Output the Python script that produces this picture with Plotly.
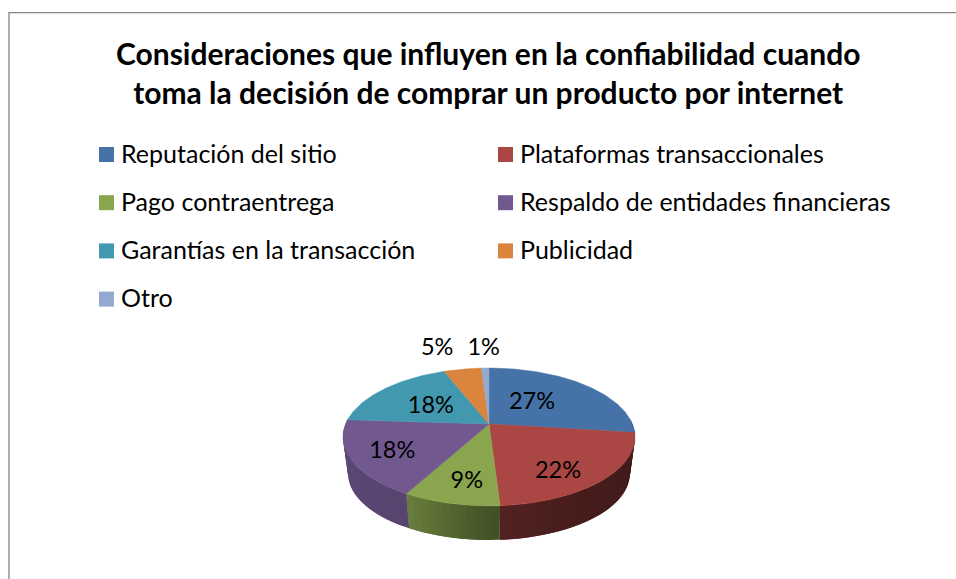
import numpy as np
import plotly.graph_objects as go

categories = ["Reputación del sitio", "Plataformas transaccionales", "Pago contraentrega",
              "Respaldo de entidades financieras", "Garantías en la transacción", "Publicidad", "Otro"]
values = [27, 22, 9, 18, 18, 5, 1]
labels = ["27%", "22%", "9%", "18%", "18%", "5%", "1%"]
colors = ["#4572A7", "#AA4643", "#89A54E", "#71588F", "#4198AF", "#DB843D", "#93A9CF"]
title_lines = ["Consideraciones que influyen en la confiabilidad cuando",
               "toma la decisión de comprar un producto por internet"]

# Layout parameters, in pixels of the 956x579 page
W, H = 956, 579
APEX = (489.0, 424.0)
B, A, K = 143.4, 66.5, 0.188      # perspective projection of the pie disc
BOTTOM_SCALE, BOTTOM_DY = 0.965, 37.0
LABEL_RADIUS = [0.50, 0.737, 0.73, 0.72, 0.53, 1.58, 1.50]
LABEL_TURN = [-8.6, 7.8, -2.0, 0.0, 0.0, -4.5, 0.0]
LABEL_DY = 3.0
LEGEND_X = [99, 498]
LEGEND_Y0, LEGEND_DY = 154.5, 48.2
SWATCH = 15
FONT = "Lato"


def project(theta_deg, r=1.0):
    t = np.radians(theta_deg)
    u, v = r * np.sin(t), r * np.cos(t)
    d = 1 + K * v
    return APEX[0] + B * u / d, APEX[1] - A * v / d


def project_bottom(theta_deg):
    x, y = project(theta_deg)
    return APEX[0] + (x - APEX[0]) * BOTTOM_SCALE, APEX[1] + (y - APEX[1]) * BOTTOM_SCALE + BOTTOM_DY


def shade(hex_color, theta_deg):
    u = np.sin(np.radians(theta_deg))
    f = np.interp(u, [-1, -0.5, 0, 0.5, 1], [0.82, 0.78, 0.50, 0.42, 0.38])
    rgb = [int(hex_color[i:i + 2], 16) for i in (1, 3, 5)]
    return "rgb({},{},{})".format(*[int(c * f) for c in rgb])


fig = go.Figure()
total = sum(values)
edges = np.cumsum([0] + values) / total * 360.0

# Side wall of the disc, in overlapping strips so it can shade gradually without seams
for i, col in enumerate(colors):
    a0, a1 = edges[i], edges[i + 1]
    if a1 < 85 or a0 > 275:
        continue
    a0, a1 = max(a0, 85), min(a1, 275)
    n = max(1, int((a1 - a0) / 2.5))
    steps = np.linspace(a0, a1, n + 1)
    for s0, s1 in zip(steps[:-1], steps[1:]):
        end = min(s1 + (s1 - s0), a1)
        arc = np.linspace(s0, end, 4)
        tx, ty = project(arc)
        bx, by = project_bottom(arc[::-1])
        c = shade(col, (s0 + s1) / 2)
        fig.add_trace(go.Scatter(x=list(tx) + list(bx), y=list(ty) + list(by), mode="lines",
                                 fill="toself", fillcolor=c, line=dict(color=c, width=0),
                                 hoverinfo="skip", showlegend=False))

# Top face
for i, col in enumerate(colors):
    th = np.linspace(edges[i], edges[i + 1], max(3, int(values[i] * 4)))
    x, y = project(th)
    fig.add_trace(go.Scatter(x=[APEX[0]] + list(x) + [APEX[0]], y=[APEX[1]] + list(y) + [APEX[1]],
                             mode="lines", fill="toself", fillcolor=col,
                             line=dict(color=col, width=0.5), name=categories[i], showlegend=False))

# Data labels
mids = (edges[:-1] + edges[1:]) / 2
lx, ly = zip(*[project(m + t, r) for m, t, r in zip(mids, LABEL_TURN, LABEL_RADIUS)])
fig.add_trace(go.Scatter(x=lx, y=[v + LABEL_DY for v in ly], mode="text", text=labels,
                         textposition="middle center",
                         textfont=dict(family=FONT, size=23.5, color="#000000"),
                         hoverinfo="skip", showlegend=False))

# Legend, two columns filled row by row
for i, (name, col) in enumerate(zip(categories, colors)):
    x = LEGEND_X[i % 2]
    y = LEGEND_Y0 + (i // 2) * LEGEND_DY
    fig.add_trace(go.Scatter(x=[x + SWATCH / 2], y=[y], mode="markers",
                             marker=dict(symbol="square", size=SWATCH, color=col, line=dict(width=0)),
                             hoverinfo="skip", showlegend=False))
    fig.add_annotation(x=x + 19.5, y=y - 2, text=name, showarrow=False, xanchor="left", yanchor="middle",
                       font=dict(family=FONT, size=25, color="#000000"))

# Chart frame (only top and left are inside the picture)
fig.add_trace(go.Scatter(x=[9, 9, W], y=[H, 12.7, 12.7], mode="lines",
                         line=dict(color="#868686", width=1.3), hoverinfo="skip", showlegend=False))

fig.add_annotation(x=488, y=72, text="<br>".join(title_lines), showarrow=False, xanchor="center",
                   yanchor="middle", align="center",
                   font=dict(family=FONT, size=30, color="#000000", weight="bold"))

fig.update_layout(width=W, height=H, margin=dict(l=0, r=0, t=0, b=0), autosize=False,
                  paper_bgcolor="#FFFFFF", plot_bgcolor="#FFFFFF", showlegend=False,
                  xaxis=dict(range=[0, W], visible=False, fixedrange=True),
                  yaxis=dict(range=[H, 0], visible=False, fixedrange=True))
fig.write_html("out.html", config=dict(displayModeBar=False),
               post_script="document.body.style.margin='0';document.documentElement.style.overflow='hidden';")
